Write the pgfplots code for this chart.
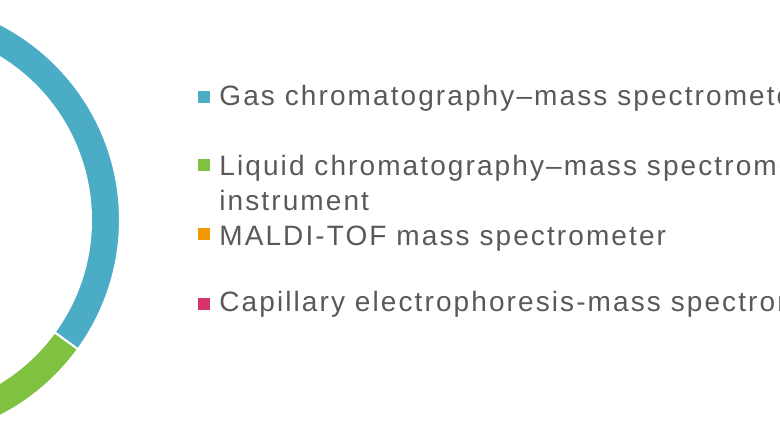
\documentclass[border=0pt]{standalone}
\usepackage{pgfplots}
\pgfplotsset{compat=1.18}
\usepackage{pgfplotstable}
\usepackage{fontspec}
\setmainfont[LetterSpace=7.5]{Liberation Sans}

\definecolor{gcteal}{HTML}{4BACC6}
\definecolor{lcgreen}{HTML}{7FC241}
\definecolor{maldiorange}{HTML}{F39800}
\definecolor{cepink}{HTML}{D6336E}
\definecolor{txtgray}{HTML}{595959}
\colorlet{slice0}{gcteal}
\colorlet{slice1}{lcgreen}
\colorlet{slice2}{maldiorange}
\colorlet{slice3}{cepink}

% share of each instrument type (%), clockwise from 12 o'clock
\pgfplotstableread{
share
35
30
20
15
}\ringdata

\begin{document}
\begin{tikzpicture}
\useasboundingbox (0,0) rectangle (390pt,220pt);
\clip (0,0) rectangle (390pt,220pt);
\begin{axis}[
    at={(0,0)}, anchor=south west,
    x=0.5pt, y=0.5pt, scale only axis,
    xmin=0, xmax=780, ymin=0, ymax=440,
    hide axis,
    clip=false,
]
\def\startang{90}
\pgfplotsforeachungrouped \i in {0,...,3}{%
  \pgfplotstablegetelem{\i}{share}\of\ringdata
  \pgfmathsetmacro{\endang}{\startang-3.6*\pgfplotsretval}%
  \edef\temp{\noexpand\fill[slice\i, draw=white, line width=1pt]
    (axis cs:-100,220) ++(\startang:110pt)
    arc[start angle=\startang, end angle=\endang, radius=110pt]
    -- ++(\endang:-14.5pt)
    arc[start angle=\endang, end angle=\startang, radius=95.5pt] -- cycle;}%
  \temp
  \global\let\startang\endang
}

% legend
\fill[gcteal]      (axis cs:198,337.5) rectangle (axis cs:210,349.5);
\fill[lcgreen]     (axis cs:198,269)   rectangle (axis cs:210,281);
\fill[maldiorange] (axis cs:198,200.5) rectangle (axis cs:210,212.5);
\fill[cepink]      (axis cs:198,130.5) rectangle (axis cs:210,142.5);
\begin{scope}[every node/.style={anchor=base west, inner sep=0pt, text=txtgray,
    font=\fontsize{14}{17.5}\selectfont}]
\node at (axis cs:219,335) {Gas chromatography–mass spectrometer};
\node at (axis cs:219,265) {Liquid chromatography–mass spectrometry};
\node at (axis cs:219,230) {instrument};
\node at (axis cs:219,195) {MALDI-TOF mass spectrometer};
\node at (axis cs:219,129) {Capillary electrophoresis-mass spectrometer};
\end{scope}
\end{axis}
\end{tikzpicture}
\end{document}
